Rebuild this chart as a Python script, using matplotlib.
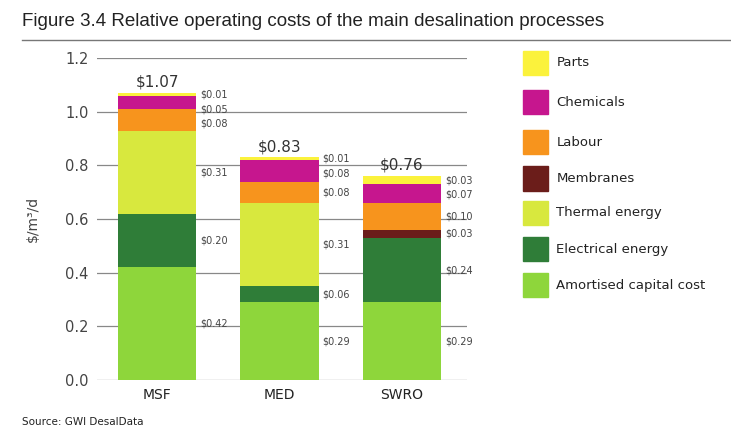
import matplotlib.pyplot as plt
import numpy as np
from matplotlib.patches import Rectangle

plt.rcParams['font.family'] = ['DejaVu Sans']

processes = ['MSF', 'MED', 'SWRO']
components = ['Amortised capital cost', 'Electrical energy', 'Thermal energy',
              'Membranes', 'Labour', 'Chemicals', 'Parts']
capital = [0.42, 0.29, 0.29]
electrical = [0.20, 0.06, 0.24]
thermal = [0.31, 0.31, 0.00]
membranes = [0.00, 0.00, 0.03]
labour = [0.08, 0.08, 0.10]
chemicals = [0.05, 0.08, 0.07]
parts = [0.01, 0.01, 0.03]
totals = [1.07, 0.83, 0.76]

colors = ['#8ed63b', '#2f7d38', '#d8e83e', '#6b1d1a', '#f7941d', '#c6168e', '#fbf23c']
series = [capital, electrical, thermal, membranes, labour, chemicals, parts]

fig = plt.figure(figsize=(7.31, 4.40), dpi=100)
ax = fig.add_axes([0.1327, 0.136, 0.506, 0.732])

x = np.arange(len(processes))
width = 0.64
bottom = np.zeros(len(processes))
mids = [[] for _ in processes]
for vals, col in zip(series, colors):
    vals = np.array(vals)
    ax.bar(x, vals, width, bottom=bottom, color=col, zorder=3)
    for i, v in enumerate(vals):
        if v > 0:
            mids[i].append((bottom[i] + v / 2, v))
    bottom += vals

# value labels right of each bar, pushed apart where segments are thin
for i in range(len(processes)):
    prev = None
    for y, v in reversed(mids[i]):
        if prev is not None and prev - y < 0.055:
            y = prev - 0.055
        prev = y
        ax.text(x[i] + width / 2 + 0.03, y, '$%.2f' % v, fontsize=7,
                color='#444444', va='center', ha='left', zorder=4)
    ax.text(x[i], totals[i] + 0.012, '$%.2f' % totals[i], fontsize=11,
            color='#333333', ha='center', va='bottom', zorder=4)

ax.set_xlim(-0.49, 2.53)
ax.set_ylim(0, 1.2)
ax.set_yticks(np.arange(0, 1.21, 0.2))
ax.set_yticklabels(['%.1f' % t for t in np.arange(0, 1.21, 0.2)], fontsize=10.5, color='#444444')
ax.set_xticks(x)
ax.set_xticklabels(processes, fontsize=10, color='#222222')
ax.tick_params(length=0, pad=6)
ax.yaxis.grid(True, color='#888888', linewidth=0.9, zorder=0)
for s in ax.spines.values():
    s.set_visible(False)
ax.set_ylabel('$/m\u00b3/d', fontsize=10, color='#444444', labelpad=18)

# legend on the right, top to bottom
leg_y = [0.857, 0.768, 0.677, 0.595, 0.516, 0.434, 0.352]
for (name, col), yy in zip(list(zip(components, colors))[::-1], leg_y):
    fig.patches.append(Rectangle((0.716, yy - 0.028), 0.034, 0.056,
                                 transform=fig.transFigure, color=col))
    fig.text(0.761, yy, name, fontsize=9.5, color='#222222', va='center')

fig.text(0.03, 0.95, 'Figure 3.4 Relative operating costs of the main desalination processes',
         fontsize=13.5, color='#222222', va='center',
         family=['Liberation Sans', 'DejaVu Sans'])
fig.add_artist(plt.Line2D([0.03, 1.0], [0.909, 0.909], color='#777777', linewidth=1))
fig.text(0.03, 0.04, 'Source: GWI DesalData', fontsize=7.5, color='#222222', va='center')

fig.savefig('out.png', dpi=100)
